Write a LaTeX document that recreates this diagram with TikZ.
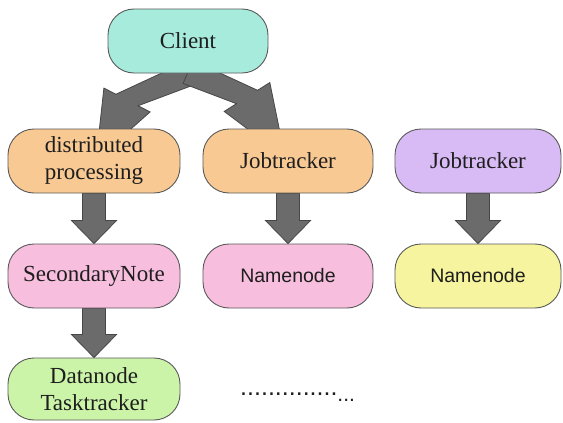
\documentclass[tikz,border=0pt]{standalone}
\usepackage{fontspec}
\setmainfont{Liberation Serif}
\newfontfamily\arialfam{Liberation Sans}
\usetikzlibrary{calc}
\pgfdeclarelayer{background}
\pgfdeclarelayer{canvas}
\pgfsetlayers{canvas,background,main}
\definecolor{cteal}{HTML}{A6EBDC}
\definecolor{corange}{HTML}{F8C993}
\definecolor{cpurple}{HTML}{D8BAF4}
\definecolor{cpink}{HTML}{F7BEDE}
\definecolor{cyellow}{HTML}{F6F49E}
\definecolor{cgreen}{HTML}{CBF4A9}
\definecolor{boxline}{HTML}{5A5A5A}
\definecolor{arrfill}{HTML}{6B6B6B}
\definecolor{arrline}{HTML}{474747}
\definecolor{txt}{HTML}{1E1E1E}
\newcommand{\lblfont}{\fontsize{23}{27}\selectfont}
\newcommand{\nnfont}{\arialfam\fontsize{19.5}{23}\selectfont}
% tail, junction, tip, half shaft width, half head width
\newcommand{\blockarrow}[5]{%
  \draw[blockarr] ($(#1)!#4!90:(#2)$) -- ($(#2)!#4!90:(#3)$) -- ($(#2)!#5!90:(#3)$) -- (#3)
   -- ($(#2)!#5!-90:(#3)$) -- ($(#2)!#4!-90:(#3)$) -- ($(#1)!#4!-90:(#2)$) -- cycle;}
\begin{document}
\begin{tikzpicture}[x=1pt,y=-1pt,
  box/.style={draw=boxline, line width=0.9pt, rounded corners=26pt, minimum height=64pt,
    align=center, inner sep=0pt, text=txt, font=\lblfont},
  blockarr/.style={fill=arrfill, draw=arrline, line width=0.8pt, line join=miter}]
\useasboundingbox (0,0) rectangle (563,423);
\begin{pgfonlayer}{canvas}
  \fill[white] (0,0) rectangle (563,423);
\end{pgfonlayer}

\node[box, fill=cteal, minimum width=160pt] (client) at (188,41) {Client};
\node[box, fill=corange, minimum width=172pt] (dp) at (94,161) {distributed\\processing};
\node[box, fill=corange, minimum width=170pt] (jt) at (288,161) {Jobtracker};
\node[box, fill=cpurple, minimum width=166pt] (jt2) at (478,161) {Jobtracker};
\node[box, fill=cpink, minimum width=172pt] (sn) at (94,276) {SecondaryNote};
\node[box, fill=cpink, minimum width=170pt, font=\nnfont] (nn) at (288,276) {Namenode};
\node[box, fill=cyellow, minimum width=166pt, font=\nnfont] (nn2) at (478,276) {Namenode};
\node[box, fill=cgreen, minimum width=172pt, minimum height=62pt] (dt) at (94,389) {Datanode\\Tasktracker};
\node[anchor=base west, inner sep=0pt, text=txt] (dots) at (240,395)
  {\arialfam\fontsize{25}{25}\selectfont ..............\raisebox{-6pt}{\fontsize{21}{21}\selectfont ...}};

\begin{pgfonlayer}{background}
  \coordinate (lt) at (198,70);
  \coordinate (lj) at (127,100);
  \coordinate (lk) at (96,160);
  \coordinate (rt) at (188,72);
  \coordinate (rj) at (247,97);
  \coordinate (rk) at (285,157);
  \blockarrow{lt}{lj}{lk}{12.5pt}{26pt}
  \blockarrow{rt}{rj}{rk}{12.5pt}{27pt}
  \coordinate (v1) at ($(sn.north)!23pt!(dp.south)$);
  \coordinate (v2) at ($(nn.north)!23pt!(jt.south)$);
  \coordinate (v3) at ($(nn2.north)!23pt!(jt2.south)$);
  \coordinate (v4) at ($(dt.north)!23pt!(sn.south)$);
  \blockarrow{dp.south}{v1}{sn.north}{11.5pt}{22.5pt}
  \blockarrow{jt.south}{v2}{nn.north}{11.5pt}{22.5pt}
  \blockarrow{jt2.south}{v3}{nn2.north}{11.5pt}{22.5pt}
  \blockarrow{sn.south}{v4}{dt.north}{11.5pt}{22.5pt}
\end{pgfonlayer}
\end{tikzpicture}
\end{document}
